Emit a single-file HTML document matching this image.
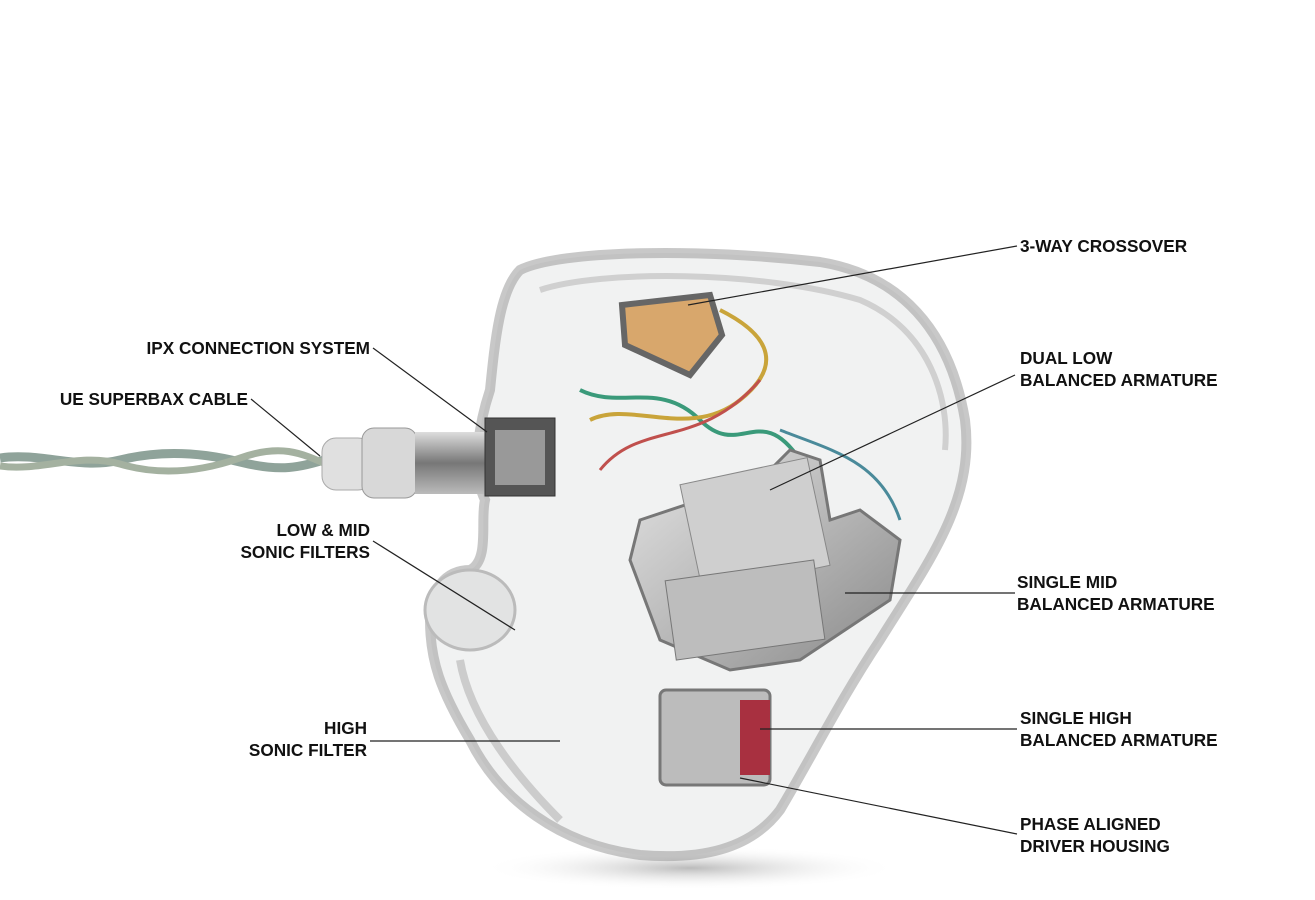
<!DOCTYPE html>
<html><head><meta charset="utf-8"><style>
html,body{margin:0;padding:0;background:#fff;}
.wrap{position:relative;width:1315px;height:900px;overflow:hidden;background:#fff;}
.l{position:absolute;font-family:"Liberation Sans Narrow","Liberation Sans",sans-serif;font-weight:bold;font-size:17.2px;line-height:22px;color:#111;white-space:nowrap;}
.r{text-align:right;}
</style></head><body><div class="wrap">
<svg width="1315" height="900" style="position:absolute;left:0;top:0">
<defs>
<radialGradient id="sh" cx="50%" cy="50%" r="50%"><stop offset="0" stop-color="#bbb"/><stop offset="1" stop-color="#fff" stop-opacity="0"/></radialGradient>
<linearGradient id="met" x1="0" y1="0" x2="1" y2="1"><stop offset="0" stop-color="#e4e4e4"/><stop offset=".5" stop-color="#b8b8b8"/><stop offset="1" stop-color="#888"/></linearGradient>
<linearGradient id="con" x1="0" y1="0" x2="0" y2="1"><stop offset="0" stop-color="#ddd"/><stop offset=".5" stop-color="#777"/><stop offset="1" stop-color="#bbb"/></linearGradient>
</defs>
<ellipse cx="690" cy="868" rx="210" ry="22" fill="url(#sh)"/>
<path d="M0 458 C40 452 80 470 120 460 S200 452 240 462 S300 468 330 458" stroke="#8fa39a" stroke-width="9" fill="none"/>
<path d="M0 466 C40 472 80 452 120 464 S200 472 240 458 S300 452 330 466" stroke="#a4b1a0" stroke-width="7" fill="none"/>
<path d="M520 270 C560 250 700 248 820 262 C900 275 950 330 965 420 C975 500 930 560 880 640 C840 700 810 760 780 810 C750 850 700 860 640 855 C560 845 500 800 470 740 C440 690 430 660 430 620 C430 590 445 570 470 570 C490 560 480 520 485 500 C470 470 480 420 490 390 C495 340 500 290 520 270 Z" fill="#f1f2f2" stroke="#9a9a9a" stroke-width="10" stroke-opacity=".55"/>
<path d="M540 290 C600 270 760 270 860 300 C930 330 950 400 945 450" stroke="#d0d0d0" stroke-width="6" fill="none"/>
<path d="M560 820 C520 780 470 720 460 660" stroke="#ccc" stroke-width="8" fill="none"/>
<ellipse cx="470" cy="610" rx="45" ry="40" fill="#e2e3e3" stroke="#bbb" stroke-width="3"/>
<rect x="322" y="438" width="50" height="52" rx="14" fill="#e0e0e0" stroke="#aaa"/>
<rect x="362" y="428" width="55" height="70" rx="12" fill="#d8d8d8" stroke="#999"/>
<rect x="415" y="432" width="72" height="62" fill="url(#con)"/>
<rect x="485" y="418" width="70" height="78" fill="#555" stroke="#333"/>
<rect x="495" y="430" width="50" height="55" fill="#999"/>
<path d="M622 305 L710 295 L722 335 L690 375 L625 345 Z" fill="#d8a76c" stroke="#666" stroke-width="6"/>
<path d="M580 390 C620 410 660 380 700 420 S760 400 800 460" stroke="#3a9a7a" stroke-width="4" fill="none"/>
<path d="M590 420 C630 400 690 440 740 400 S760 330 720 310" stroke="#c9a43a" stroke-width="4" fill="none"/>
<path d="M600 470 C640 420 700 450 760 380" stroke="#c0504d" stroke-width="3" fill="none"/>
<path d="M780 430 C830 450 880 460 900 520" stroke="#4a8a9a" stroke-width="3" fill="none"/>
<path d="M640 520 L760 480 L790 450 L820 460 L830 520 L860 510 L900 540 L890 600 L800 660 L730 670 L660 640 L630 560 Z" fill="url(#met)" stroke="#777" stroke-width="3"/>
<rect x="690" y="470" width="130" height="110" fill="#cfcfcf" stroke="#888" transform="rotate(-12 755 525)"/>
<rect x="670" y="570" width="150" height="80" fill="#bdbdbd" stroke="#777" transform="rotate(-8 745 610)"/>
<rect x="660" y="690" width="110" height="95" rx="6" fill="#bcbcbc" stroke="#777" stroke-width="3"/>
<rect x="740" y="700" width="30" height="75" fill="#a83040"/>
<g stroke="#222" stroke-width="1.2">
<line x1="688" y1="305" x2="1017" y2="246"/>
<line x1="373" y1="348" x2="487" y2="432"/>
<line x1="251" y1="399" x2="320" y2="456"/>
<line x1="1015" y1="375" x2="770" y2="490"/>
<line x1="373" y1="541" x2="515" y2="630"/>
<line x1="845" y1="593" x2="1015" y2="593"/>
<line x1="370" y1="741" x2="560" y2="741"/>
<line x1="760" y1="729" x2="1017" y2="729"/>
<line x1="740" y1="778" x2="1017" y2="834"/>
</g>
</svg>
<div class="l" style="left:1020px;top:235px">3-WAY CROSSOVER</div>
<div class="l r" style="right:945px;top:337px">IPX CONNECTION SYSTEM</div>
<div class="l r" style="right:1067px;top:388px">UE SUPERBAX CABLE</div>
<div class="l" style="left:1020px;top:347px">DUAL LOW<br>BALANCED ARMATURE</div>
<div class="l r" style="right:945px;top:519px">LOW &amp; MID<br>SONIC FILTERS</div>
<div class="l" style="left:1017px;top:571px">SINGLE MID<br>BALANCED ARMATURE</div>
<div class="l r" style="right:948px;top:717px">HIGH<br>SONIC FILTER</div>
<div class="l" style="left:1020px;top:707px">SINGLE HIGH<br>BALANCED ARMATURE</div>
<div class="l" style="left:1020px;top:813px">PHASE ALIGNED<br>DRIVER HOUSING</div>
</div></body></html>
